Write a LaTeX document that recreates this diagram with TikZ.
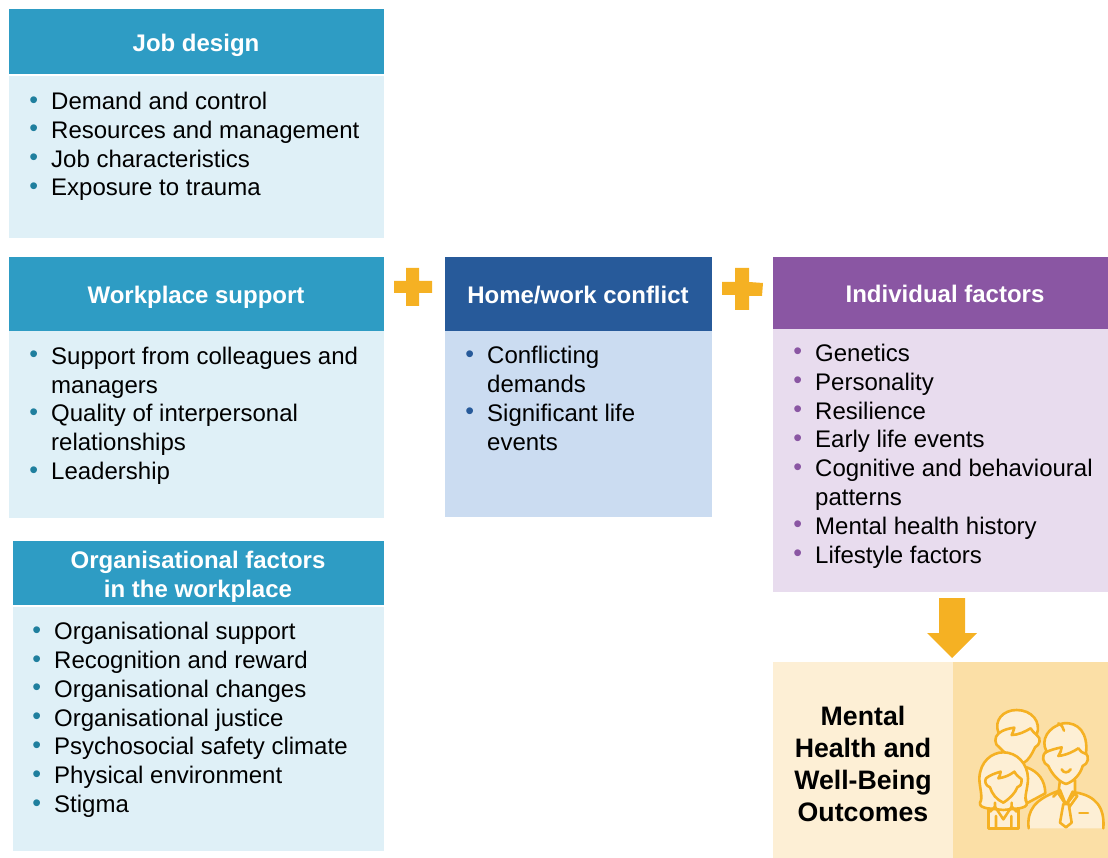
\documentclass[tikz,border=0pt]{standalone}
\usepackage{fontspec}
\setmainfont{Liberation Sans}
\definecolor{teal}{HTML}{2E9CC4}
\definecolor{teallight}{HTML}{DFF0F7}
\definecolor{tealbul}{HTML}{1F7F9E}
\definecolor{navy}{HTML}{275A9A}
\definecolor{navylight}{HTML}{CBDCF1}
\definecolor{purp}{HTML}{8A56A3}
\definecolor{purplight}{HTML}{E8DCEE}
\definecolor{gold}{HTML}{F5B123}
\definecolor{creamA}{HTML}{FDEFD5}
\definecolor{creamB}{HTML}{FBDFA6}
\newcommand{\mybul}[1]{\leavevmode\llap{\textcolor{#1}{\raisebox{1.5pt}{\fontsize{25}{25}\selectfont•}}\hspace{13pt}}}
\newcommand{\tb}{\mybul{tealbul}}
\newcommand{\nb}{\mybul{navy}}
\newcommand{\pb}{\mybul{purp}}
\tikzset{
  x=1pt,y=-1pt,
  headtext/.style={font=\bfseries\fontsize{24}{29}\selectfont,text=white,align=center,inner sep=0pt},
  listtext/.style={font=\fontsize{24}{28.8}\selectfont,text=black,align=left,inner sep=0pt,anchor=base west},
  icon/.style={draw=gold,line width=2.6pt,fill=creamA,line join=round,line cap=round},
  iconline/.style={draw=gold,line width=2.6pt,line join=round,line cap=round},
}
\begin{document}
\begin{tikzpicture}
\useasboundingbox (0,0) rectangle (1108,858);
% Job design
\fill[teal] (9,9) rectangle (384,74);
\fill[teallight] (9,76) rectangle (384,238);
\node[headtext] (h1) at (196,45) {Job design};
\node[listtext] (l1) at (51,196) {\tb Demand and control\\\tb Resources and management\\\tb Job characteristics\\\tb Exposure to trauma};
% Workplace support
\fill[teal] (9,257) rectangle (384,331);
\fill[teallight] (9,331) rectangle (384,518);
\node[headtext] (h2) at (196,297) {Workplace support};
\node[listtext] (l2) at (51,479.5) {\tb Support from colleagues and\\managers\\\tb Quality of interpersonal\\relationships\\\tb Leadership};
% Organisational
\fill[teal] (13,541) rectangle (384,605);
\fill[teallight] (13,607) rectangle (384,851);
\node[headtext] (h3) at (198,577) {Organisational factors\\in the workplace};
\node[listtext] (l3) at (54,812.5) {\tb Organisational support\\\tb Recognition and reward\\\tb Organisational changes\\\tb Organisational justice\\\tb Psychosocial safety climate\\\tb Physical environment\\\tb Stigma};
% Home/work
\fill[navy] (445,257) rectangle (712,331);
\fill[navylight] (445,331) rectangle (712,517);
\node[headtext] (h4) at (578,295) {Home/work conflict};
\node[listtext] (l4) at (487,450) {\nb Conflicting\\demands\\\nb Significant life\\events};
% Individual
\fill[purp] (773,257) rectangle (1108,329);
\fill[purplight] (773,329) rectangle (1108,592);
\node[headtext] (h5) at (945,294) {Individual factors};
\node[listtext] (l5) at (815,563) {\pb Genetics\\\pb Personality\\\pb Resilience\\\pb Early life events\\\pb Cognitive and behavioural\\patterns\\\pb Mental health history\\\pb Lifestyle factors};
% plus signs
\fill[gold] (406,268) -- (419,268) -- (419,281) -- (432,281) -- (432,293) -- (419,293) -- (419,306) -- (406,306) -- (406,293) -- (394,293) -- (394,281) -- (406,281) -- cycle;
\fill[gold] (735,268) -- (749,268) -- (749,282) -- (763,283) -- (762,296) -- (749,296) -- (749,310) -- (735,310) -- (735,295) -- (722,295) -- (722,282) -- (735,282) -- cycle;
% arrow
\fill[gold] (939,598) -- (965,598) -- (965,633) -- (977,633) -- (952,658) -- (927,633) -- (939,633) -- cycle;
% outcomes
\fill[creamA] (773,662) rectangle (953,858);
\fill[creamB] (953,662) rectangle (1108,858);
\node[font=\bfseries\fontsize{26.7}{32}\selectfont,text=black,align=center,inner sep=0pt] (h6) at (863,764) {Mental\\Health and\\Well-Being\\Outcomes};
% icon
\begin{scope}[shift={(960,690)},x=0.3333pt,y=-0.3333pt]
  % back person
  \path[icon] (200,232) .. controls (235,245) and (255,270) .. (256,310) -- (200,340) -- (180,230) -- cycle;
  \path[icon] (116,130) .. controls (100,90) and (130,60) .. (170,60) .. controls (215,60) and (245,95) .. (230,135) .. controls (245,145) and (240,165) .. (225,172) .. controls (215,195) and (205,210) .. (192,218) .. controls (165,215) and (135,190) .. (118,172) .. controls (103,165) and (102,140) .. (116,130) -- cycle;
  \path[iconline] (116,130) .. controls (130,118) and (150,115) .. (163,113) .. controls (160,120) and (160,128) .. (155,135) .. controls (175,135) and (195,125) .. (212,115) .. controls (218,125) and (225,130) .. (230,135);
  % woman
  \path[icon] (85,345) -- (175,345) -- (175,415) -- (85,415) -- cycle;
  \path[icon] (82,355) .. controls (70,352) and (58,350) .. (60,338) .. controls (70,325) and (58,290) .. (58,265) .. controls (60,215) and (95,187) .. (130,187) .. controls (170,187) and (203,220) .. (204,265) .. controls (204,295) and (190,325) .. (200,338) .. controls (203,350) and (190,352) .. (178,355) -- (130,360) -- cycle;
  \path[icon] (78,265) .. controls (90,255) and (105,250) .. (122,245) .. controls (122,252) and (118,260) .. (115,265) .. controls (135,262) and (150,255) .. (163,245) .. controls (168,255) and (178,262) .. (185,268) .. controls (185,285) and (180,290) .. (172,292) .. controls (165,310) and (150,325) .. (130,338) .. controls (110,330) and (95,310) .. (90,292) .. controls (78,288) and (72,275) .. (78,265) -- cycle;
  \path[iconline] (105,338) -- (105,350) -- (130,388) -- (155,350) -- (155,338);
  \path[iconline] (105,350) -- (90,365) (155,350) -- (170,365) (108,378) -- (108,412) (154,378) -- (154,412);
  % right man
  \path[icon] (206,415) .. controls (200,360) and (225,328) .. (295,303) -- (350,308) .. controls (405,318) and (435,350) .. (430,415);
  \path[icon] (300,270) -- (345,270) -- (345,310) -- (318,345) -- (295,310) -- cycle;
  \path[icon] (260,185) .. controls (240,150) and (265,110) .. (310,100) .. controls (355,95) and (385,130) .. (378,190) .. controls (388,200) and (385,222) .. (368,228) .. controls (360,255) and (340,275) .. (318,282) .. controls (295,275) and (275,250) .. (265,228) .. controls (248,220) and (242,195) .. (260,185) -- cycle;
  \path[iconline] (255,188) .. controls (270,180) and (290,175) .. (305,172) .. controls (305,180) and (300,190) .. (295,198) .. controls (320,195) and (340,185) .. (355,175) .. controls (360,183) and (368,190) .. (378,192);
  \path[iconline] (295,100) .. controls (305,105) and (310,112) .. (312,122);
  \path[iconline] (305,238) .. controls (310,250) and (325,250) .. (332,238);
  \path[iconline] (280,320) -- (300,300) -- (318,345) -- (338,305) -- (352,318) -- (318,365);
  \path[icon] (310,342) -- (326,342) -- (335,398) -- (318,412) -- (300,398) -- cycle;
  \path[iconline] (358,369) -- (384,369);
\end{scope}
\end{tikzpicture}
\end{document}
